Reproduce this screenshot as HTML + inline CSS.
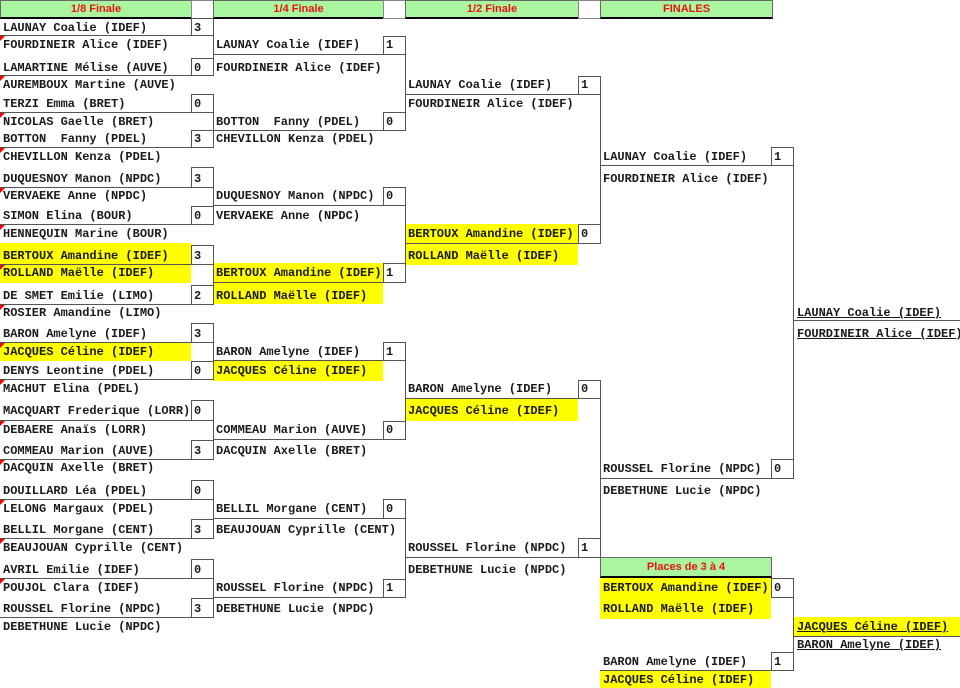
<!DOCTYPE html>
<html><head><meta charset="utf-8"><style>
body{margin:0;width:960px;height:688px;background:#fff;position:relative;overflow:hidden}
.t{position:absolute;font:bold 12px/16px "Liberation Mono","DejaVu Sans Mono",monospace;color:#1a1a1a;white-space:pre}
.u{text-decoration:underline}
.b{position:absolute;border:1px solid #555;box-sizing:border-box;background:#fff}
.h{position:absolute;height:1px;background:#555}
.v{position:absolute;width:1px;background:#555}
.y{position:absolute;background:#ffff00}
.g{position:absolute;top:0;height:19px;background:#a9f5a0;border:1px solid #666;border-bottom:2px solid #000;box-sizing:border-box;color:#ee1111;font:bold 11px/16px "Liberation Sans",sans-serif;text-align:center}
.w{position:absolute;top:0;height:19px;border:1px solid #888;box-sizing:border-box}
.r{position:absolute;left:0;width:0;height:0;border-top:5px solid #e00;border-right:5px solid transparent}
</style></head><body>
<!-- headers -->
<div class="g" style="left:0;width:192px">1/8 Finale</div>
<div class="w" style="left:191px;width:23px"></div>
<div class="g" style="left:213px;width:171px">1/4 Finale</div>
<div class="w" style="left:383px;width:23px"></div>
<div class="g" style="left:405px;width:174px">1/2 Finale</div>
<div class="w" style="left:578px;width:23px"></div>
<div class="g" style="left:600px;width:173px">FINALES</div>

<!-- yellow backgrounds -->
<div class="y" style="left:0;top:243px;width:191px;height:22px"></div>
<div class="y" style="left:0;top:265px;width:191px;height:18px"></div>
<div class="y" style="left:0;top:343px;width:191px;height:18px"></div>
<div class="y" style="left:213px;top:263px;width:170px;height:19px"></div>
<div class="y" style="left:213px;top:282px;width:170px;height:22px"></div>
<div class="y" style="left:213px;top:361px;width:170px;height:20px"></div>
<div class="y" style="left:405px;top:224px;width:173px;height:19px"></div>
<div class="y" style="left:405px;top:243px;width:173px;height:22px"></div>
<div class="y" style="left:405px;top:398px;width:173px;height:23px"></div>
<div class="y" style="left:600px;top:578px;width:171px;height:19px"></div>
<div class="y" style="left:600px;top:597px;width:171px;height:22px"></div>
<div class="y" style="left:600px;top:671px;width:171px;height:17px"></div>
<div class="y" style="left:793px;top:617px;width:167px;height:19px"></div>

<!-- 1/8 underlines -->
<div class="h" style="left:0;top:35px;width:213px"></div>
<div class="h" style="left:0;top:75px;width:213px"></div>
<div class="h" style="left:0;top:112px;width:213px"></div>
<div class="h" style="left:0;top:147px;width:213px"></div>
<div class="h" style="left:0;top:187px;width:213px"></div>
<div class="h" style="left:0;top:224px;width:213px"></div>
<div class="h" style="left:0;top:264px;width:213px"></div>
<div class="h" style="left:0;top:304px;width:213px"></div>
<div class="h" style="left:0;top:342px;width:213px"></div>
<div class="h" style="left:0;top:379px;width:213px"></div>
<div class="h" style="left:0;top:420px;width:213px"></div>
<div class="h" style="left:0;top:459px;width:213px"></div>
<div class="h" style="left:0;top:499px;width:213px"></div>
<div class="h" style="left:0;top:538px;width:213px"></div>
<div class="h" style="left:0;top:578px;width:213px"></div>
<div class="h" style="left:0;top:617px;width:213px"></div>
<!-- 1/8 verticals -->
<div class="v" style="left:213px;top:18px;height:58px"></div>
<div class="v" style="left:213px;top:94px;height:54px"></div>
<div class="v" style="left:213px;top:167px;height:58px"></div>
<div class="v" style="left:213px;top:245px;height:60px"></div>
<div class="v" style="left:213px;top:323px;height:57px"></div>
<div class="v" style="left:213px;top:400px;height:60px"></div>
<div class="v" style="left:213px;top:480px;height:59px"></div>
<div class="v" style="left:213px;top:559px;height:59px"></div>
<!-- 1/8 boxes -->
<div class="b" style="left:191px;top:18px;width:23px;height:18px"></div>
<div class="b" style="left:191px;top:58px;width:23px;height:18px"></div>
<div class="b" style="left:191px;top:94px;width:23px;height:19px"></div>
<div class="b" style="left:191px;top:130px;width:23px;height:18px"></div>
<div class="b" style="left:191px;top:167px;width:23px;height:21px"></div>
<div class="b" style="left:191px;top:206px;width:23px;height:19px"></div>
<div class="b" style="left:191px;top:245px;width:23px;height:20px"></div>
<div class="b" style="left:191px;top:285px;width:23px;height:20px"></div>
<div class="b" style="left:191px;top:323px;width:23px;height:20px"></div>
<div class="b" style="left:191px;top:361px;width:23px;height:19px"></div>
<div class="b" style="left:191px;top:400px;width:23px;height:21px"></div>
<div class="b" style="left:191px;top:440px;width:23px;height:20px"></div>
<div class="b" style="left:191px;top:480px;width:23px;height:20px"></div>
<div class="b" style="left:191px;top:519px;width:23px;height:20px"></div>
<div class="b" style="left:191px;top:559px;width:23px;height:20px"></div>
<div class="b" style="left:191px;top:598px;width:23px;height:20px"></div>

<!-- 1/4 lines -->
<div class="h" style="left:213px;top:54px;width:192px"></div>
<div class="h" style="left:213px;top:130px;width:192px"></div>
<div class="h" style="left:213px;top:205px;width:192px"></div>
<div class="h" style="left:213px;top:282px;width:192px"></div>
<div class="h" style="left:213px;top:360px;width:192px"></div>
<div class="h" style="left:213px;top:439px;width:192px"></div>
<div class="h" style="left:213px;top:518px;width:192px"></div>
<div class="h" style="left:213px;top:597px;width:192px"></div>
<div class="v" style="left:405px;top:36px;height:95px"></div>
<div class="v" style="left:405px;top:187px;height:96px"></div>
<div class="v" style="left:405px;top:342px;height:98px"></div>
<div class="v" style="left:405px;top:499px;height:99px"></div>
<div class="b" style="left:383px;top:36px;width:23px;height:19px"></div>
<div class="b" style="left:383px;top:112px;width:23px;height:19px"></div>
<div class="b" style="left:383px;top:187px;width:23px;height:19px"></div>
<div class="b" style="left:383px;top:263px;width:23px;height:20px"></div>
<div class="b" style="left:383px;top:342px;width:23px;height:19px"></div>
<div class="b" style="left:383px;top:421px;width:23px;height:19px"></div>
<div class="b" style="left:383px;top:499px;width:23px;height:20px"></div>
<div class="b" style="left:383px;top:579px;width:23px;height:19px"></div>

<!-- 1/2 lines -->
<div class="h" style="left:405px;top:94px;width:195px"></div>
<div class="h" style="left:405px;top:243px;width:195px"></div>
<div class="h" style="left:405px;top:398px;width:195px"></div>
<div class="h" style="left:405px;top:557px;width:195px"></div>
<div class="v" style="left:600px;top:76px;height:168px"></div>
<div class="v" style="left:600px;top:380px;height:178px"></div>
<div class="b" style="left:578px;top:76px;width:23px;height:19px"></div>
<div class="b" style="left:578px;top:224px;width:23px;height:20px"></div>
<div class="b" style="left:578px;top:380px;width:23px;height:19px"></div>
<div class="b" style="left:578px;top:538px;width:23px;height:20px"></div>

<!-- finales lines -->
<div class="h" style="left:600px;top:165px;width:193px"></div>
<div class="h" style="left:600px;top:478px;width:193px"></div>
<div class="v" style="left:793px;top:147px;height:332px"></div>
<div class="b" style="left:771px;top:147px;width:23px;height:19px"></div>
<div class="b" style="left:771px;top:459px;width:23px;height:20px"></div>
<div class="h" style="left:793px;top:320px;width:167px"></div>

<!-- places 3-4 -->
<div class="g" style="left:600px;top:557px;width:172px;height:21px;line-height:19px">Places de 3 à 4</div>
<div class="v" style="left:793px;top:578px;height:93px"></div>
<div class="h" style="left:600px;top:670px;width:193px"></div>
<div class="b" style="left:771px;top:578px;width:23px;height:20px"></div>
<div class="b" style="left:771px;top:652px;width:23px;height:19px"></div>
<div class="h" style="left:793px;top:636px;width:167px"></div>

<!-- red comment markers -->
<div class="r" style="top:36px"></div><div class="r" style="top:76px"></div>
<div class="r" style="top:113px"></div><div class="r" style="top:148px"></div>
<div class="r" style="top:188px"></div><div class="r" style="top:225px"></div>
<div class="r" style="top:265px"></div><div class="r" style="top:305px"></div>
<div class="r" style="top:343px"></div><div class="r" style="top:380px"></div>
<div class="r" style="top:421px"></div><div class="r" style="top:460px"></div>
<div class="r" style="top:500px"></div><div class="r" style="top:539px"></div>
<div class="r" style="top:579px"></div>

<!-- 1/8 text -->
<div class="t" style="left:3px;top:20px">LAUNAY Coalie (IDEF)</div>
<div class="t" style="left:3px;top:37px">FOURDINEIR Alice (IDEF)</div>
<div class="t" style="left:3px;top:60px">LAMARTINE Mélise (AUVE)</div>
<div class="t" style="left:3px;top:77px">AUREMBOUX Martine (AUVE)</div>
<div class="t" style="left:3px;top:96px">TERZI Emma (BRET)</div>
<div class="t" style="left:3px;top:114px">NICOLAS Gaelle (BRET)</div>
<div class="t" style="left:3px;top:131px">BOTTON  Fanny (PDEL)</div>
<div class="t" style="left:3px;top:149px">CHEVILLON Kenza (PDEL)</div>
<div class="t" style="left:3px;top:171px">DUQUESNOY Manon (NPDC)</div>
<div class="t" style="left:3px;top:188px">VERVAEKE Anne (NPDC)</div>
<div class="t" style="left:3px;top:208px">SIMON Elina (BOUR)</div>
<div class="t" style="left:3px;top:226px">HENNEQUIN Marine (BOUR)</div>
<div class="t" style="left:3px;top:248px">BERTOUX Amandine (IDEF)</div>
<div class="t" style="left:3px;top:265px">ROLLAND Maëlle (IDEF)</div>
<div class="t" style="left:3px;top:288px">DE SMET Emilie (LIMO)</div>
<div class="t" style="left:3px;top:305px">ROSIER Amandine (LIMO)</div>
<div class="t" style="left:3px;top:326px">BARON Amelyne (IDEF)</div>
<div class="t" style="left:3px;top:344px">JACQUES Céline (IDEF)</div>
<div class="t" style="left:3px;top:363px">DENYS Leontine (PDEL)</div>
<div class="t" style="left:3px;top:381px">MACHUT Elina (PDEL)</div>
<div class="t" style="left:3px;top:403px">MACQUART Frederique (LORR)</div>
<div class="t" style="left:3px;top:422px">DEBAERE Anaïs (LORR)</div>
<div class="t" style="left:3px;top:443px">COMMEAU Marion (AUVE)</div>
<div class="t" style="left:3px;top:460px">DACQUIN Axelle (BRET)</div>
<div class="t" style="left:3px;top:483px">DOUILLARD Léa (PDEL)</div>
<div class="t" style="left:3px;top:501px">LELONG Margaux (PDEL)</div>
<div class="t" style="left:3px;top:522px">BELLIL Morgane (CENT)</div>
<div class="t" style="left:3px;top:540px">BEAUJOUAN Cyprille (CENT)</div>
<div class="t" style="left:3px;top:562px">AVRIL Emilie (IDEF)</div>
<div class="t" style="left:3px;top:580px">POUJOL Clara (IDEF)</div>
<div class="t" style="left:3px;top:601px">ROUSSEL Florine (NPDC)</div>
<div class="t" style="left:3px;top:619px">DEBETHUNE Lucie (NPDC)</div>
<!-- 1/8 scores -->
<div class="t" style="left:194px;top:20px">3</div>
<div class="t" style="left:194px;top:60px">0</div>
<div class="t" style="left:194px;top:96px">0</div>
<div class="t" style="left:194px;top:131px">3</div>
<div class="t" style="left:194px;top:171px">3</div>
<div class="t" style="left:194px;top:208px">0</div>
<div class="t" style="left:194px;top:248px">3</div>
<div class="t" style="left:194px;top:288px">2</div>
<div class="t" style="left:194px;top:326px">3</div>
<div class="t" style="left:194px;top:363px">0</div>
<div class="t" style="left:194px;top:403px">0</div>
<div class="t" style="left:194px;top:443px">3</div>
<div class="t" style="left:194px;top:483px">0</div>
<div class="t" style="left:194px;top:522px">3</div>
<div class="t" style="left:194px;top:562px">0</div>
<div class="t" style="left:194px;top:601px">3</div>

<!-- 1/4 text -->
<div class="t" style="left:216px;top:37px">LAUNAY Coalie (IDEF)</div>
<div class="t" style="left:216px;top:60px">FOURDINEIR Alice (IDEF)</div>
<div class="t" style="left:216px;top:114px">BOTTON  Fanny (PDEL)</div>
<div class="t" style="left:216px;top:131px">CHEVILLON Kenza (PDEL)</div>
<div class="t" style="left:216px;top:188px">DUQUESNOY Manon (NPDC)</div>
<div class="t" style="left:216px;top:208px">VERVAEKE Anne (NPDC)</div>
<div class="t" style="left:216px;top:265px">BERTOUX Amandine (IDEF)</div>
<div class="t" style="left:216px;top:288px">ROLLAND Maëlle (IDEF)</div>
<div class="t" style="left:216px;top:344px">BARON Amelyne (IDEF)</div>
<div class="t" style="left:216px;top:363px">JACQUES Céline (IDEF)</div>
<div class="t" style="left:216px;top:422px">COMMEAU Marion (AUVE)</div>
<div class="t" style="left:216px;top:443px">DACQUIN Axelle (BRET)</div>
<div class="t" style="left:216px;top:501px">BELLIL Morgane (CENT)</div>
<div class="t" style="left:216px;top:522px">BEAUJOUAN Cyprille (CENT)</div>
<div class="t" style="left:216px;top:580px">ROUSSEL Florine (NPDC)</div>
<div class="t" style="left:216px;top:601px">DEBETHUNE Lucie (NPDC)</div>
<div class="t" style="left:386px;top:37px">1</div>
<div class="t" style="left:386px;top:114px">0</div>
<div class="t" style="left:386px;top:188px">0</div>
<div class="t" style="left:386px;top:265px">1</div>
<div class="t" style="left:386px;top:344px">1</div>
<div class="t" style="left:386px;top:422px">0</div>
<div class="t" style="left:386px;top:501px">0</div>
<div class="t" style="left:386px;top:580px">1</div>

<!-- 1/2 text -->
<div class="t" style="left:408px;top:77px">LAUNAY Coalie (IDEF)</div>
<div class="t" style="left:408px;top:96px">FOURDINEIR Alice (IDEF)</div>
<div class="t" style="left:408px;top:226px">BERTOUX Amandine (IDEF)</div>
<div class="t" style="left:408px;top:248px">ROLLAND Maëlle (IDEF)</div>
<div class="t" style="left:408px;top:381px">BARON Amelyne (IDEF)</div>
<div class="t" style="left:408px;top:403px">JACQUES Céline (IDEF)</div>
<div class="t" style="left:408px;top:540px">ROUSSEL Florine (NPDC)</div>
<div class="t" style="left:408px;top:562px">DEBETHUNE Lucie (NPDC)</div>
<div class="t" style="left:581px;top:77px">1</div>
<div class="t" style="left:581px;top:226px">0</div>
<div class="t" style="left:581px;top:381px">0</div>
<div class="t" style="left:581px;top:540px">1</div>

<!-- finales text -->
<div class="t" style="left:603px;top:149px">LAUNAY Coalie (IDEF)</div>
<div class="t" style="left:603px;top:171px">FOURDINEIR Alice (IDEF)</div>
<div class="t" style="left:603px;top:461px">ROUSSEL Florine (NPDC)</div>
<div class="t" style="left:603px;top:483px">DEBETHUNE Lucie (NPDC)</div>
<div class="t" style="left:774px;top:149px">1</div>
<div class="t" style="left:774px;top:461px">0</div>
<div class="t u" style="left:797px;top:305px">LAUNAY Coalie (IDEF)</div>
<div class="t u" style="left:797px;top:326px">FOURDINEIR Alice (IDEF)</div>

<!-- places text -->
<div class="t" style="left:603px;top:580px">BERTOUX Amandine (IDEF)</div>
<div class="t" style="left:603px;top:601px">ROLLAND Maëlle (IDEF)</div>
<div class="t" style="left:603px;top:654px">BARON Amelyne (IDEF)</div>
<div class="t" style="left:603px;top:672px">JACQUES Céline (IDEF)</div>
<div class="t" style="left:774px;top:580px">0</div>
<div class="t" style="left:774px;top:654px">1</div>
<div class="t u" style="left:797px;top:619px">JACQUES Céline (IDEF)</div>
<div class="t u" style="left:797px;top:637px">BARON Amelyne (IDEF)</div>
</body></html>
